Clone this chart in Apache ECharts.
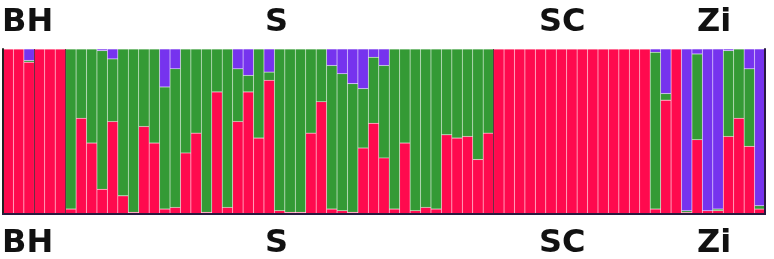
<!DOCTYPE html>
<html>
<head>
<meta charset="utf-8">
<script src="https://cdn.jsdelivr.net/npm/echarts@6/dist/echarts.min.js"></script>
<style>
  html, body { margin: 0; padding: 0; background: #fff; }
  .structure-plot { width: 774px; height: 259px; }
</style>
</head>
<body>
<div class="structure-plot"></div>
<script>
// * STRUCTURE 柱状图 (K = 3)

const individuals = Array.from({ length: 73 }, (_, i) => 'ind' + (i + 1))

// 每个个体的成分比例 (红 / 绿 / 紫)
const redShare = [
  1, 1, 0.92, 1, 1, 1,
  0.03, 0.58, 0.43, 0.15, 0.56, 0.11, 0.01, 0.53, 0.43, 0.03, 0.04, 0.37, 0.49, 0.01,
  0.74, 0.04, 0.56, 0.74, 0.46, 0.81, 0.02, 0.01, 0.01, 0.49, 0.68, 0.03, 0.02, 0.01,
  0.40, 0.55, 0.34, 0.03, 0.43, 0.02, 0.04, 0.03, 0.48, 0.46, 0.47, 0.33, 0.49,
  1, 1, 1, 1, 1, 1, 1, 1, 1, 1, 1, 1, 1, 1, 1,
  0.03, 0.69, 1, 0.01, 0.45, 0.02, 0.02, 0.47, 0.58, 0.41, 0.03
]
const greenShare = [
  0, 0, 0.01, 0, 0, 0,
  0.97, 0.42, 0.57, 0.84, 0.38, 0.89, 0.99, 0.47, 0.57, 0.74, 0.84, 0.63, 0.51, 0.99,
  0.26, 0.96, 0.32, 0.10, 0.54, 0.05, 0.98, 0.99, 0.99, 0.51, 0.32, 0.87, 0.83, 0.78,
  0.36, 0.40, 0.56, 0.97, 0.57, 0.98, 0.96, 0.97, 0.52, 0.54, 0.53, 0.67, 0.51,
  0, 0, 0, 0, 0, 0, 0, 0, 0, 0, 0, 0, 0, 0, 0,
  0.95, 0.04, 0, 0.01, 0.52, 0, 0.01, 0.52, 0.42, 0.47, 0.02
]
const purpleShare = [
  0, 0, 0.07, 0, 0, 0,
  0, 0, 0, 0.01, 0.06, 0, 0, 0, 0, 0.23, 0.12, 0, 0, 0,
  0, 0, 0.12, 0.16, 0, 0.14, 0, 0, 0, 0, 0, 0.10, 0.15, 0.21,
  0.24, 0.05, 0.10, 0, 0, 0, 0, 0, 0, 0, 0, 0, 0,
  0, 0, 0, 0, 0, 0, 0, 0, 0, 0, 0, 0, 0, 0, 0,
  0.02, 0.27, 0, 0.98, 0.03, 0.98, 0.97, 0.01, 0, 0.12, 0.95
]

// 种群名称 和 种群分界 (个体序号)
const popNames = ['BH', 'S', 'SC', 'Zi']
const popLabelLeft = [2, 265, 539, 697]
const popBreaks = [3, 6, 47]

const structurePlot = echarts.init(document.querySelector('.structure-plot'))

const labelStyle = {
  fontFamily: 'DejaVu Sans',
  fontWeight: 'bold',
  fontSize: 32,
  color: '#111'
}
const titles = []
popNames.forEach((name, i) => {
  titles.push({ text: name, left: popLabelLeft[i], top: 7, padding: 0, textStyle: labelStyle })
  titles.push({ text: name, left: popLabelLeft[i], top: 228, padding: 0, textStyle: labelStyle })
})

const barStyle = color => ({
  color: color,
  borderColor: 'rgba(255,255,255,0.16)',
  borderWidth: 0.5
})

const structureOption = {
  animation: false,
  title: titles,
  grid: {
    left: 3,
    right: 9,
    top: 49,
    bottom: 45
  },
  xAxis: [
    {
      type: 'category',
      data: individuals,
      z: 5,
      axisLine: { show: true, lineStyle: { color: '#222', width: 2 } },
      axisTick: { show: false },
      axisLabel: { show: false }
    },
    {
      type: 'value',
      min: 0,
      max: 73,
      position: 'top',
      z: 5,
      axisLine: { show: true, lineStyle: { color: '#2a1a40', width: 2 } },
      axisTick: { show: false },
      axisLabel: { show: false },
      splitLine: { show: false }
    }
  ],
  yAxis: [
    {
      type: 'value',
      min: 0,
      max: 1,
      z: 5,
      axisLine: { show: true, lineStyle: { color: '#222', width: 2 } },
      axisTick: { show: false },
      axisLabel: { show: false },
      splitLine: { show: false }
    },
    {
      type: 'value',
      min: 0,
      max: 1,
      position: 'right',
      z: 5,
      axisLine: { show: true, lineStyle: { color: '#2a1a40', width: 2 } },
      axisTick: { show: false },
      axisLabel: { show: false },
      splitLine: { show: false }
    }
  ],
  series: [
    {
      name: 'red',
      type: 'bar',
      stack: 'q',
      barCategoryGap: 0,
      data: redShare,
      itemStyle: barStyle('#ff0a4e')
    },
    {
      name: 'green',
      type: 'bar',
      stack: 'q',
      barCategoryGap: 0,
      data: greenShare,
      itemStyle: barStyle('#349a35')
    },
    {
      name: 'purple',
      type: 'bar',
      stack: 'q',
      barCategoryGap: 0,
      data: purpleShare,
      itemStyle: barStyle('#7633ee')
    },
    {
      // 种群分界线
      type: 'line',
      xAxisIndex: 1,
      z: 4,
      data: [[0, 0], [73, 0]],
      showSymbol: false,
      silent: true,
      lineStyle: { opacity: 0 },
      markLine: {
        silent: true,
        symbol: 'none',
        label: { show: false },
        lineStyle: { color: 'rgba(70,20,40,0.8)', width: 1, type: 'solid' },
        data: popBreaks.map(b => ({ xAxis: b }))
      }
    }
  ]
}

structurePlot.setOption(structureOption)
</script>
</body>
</html>
